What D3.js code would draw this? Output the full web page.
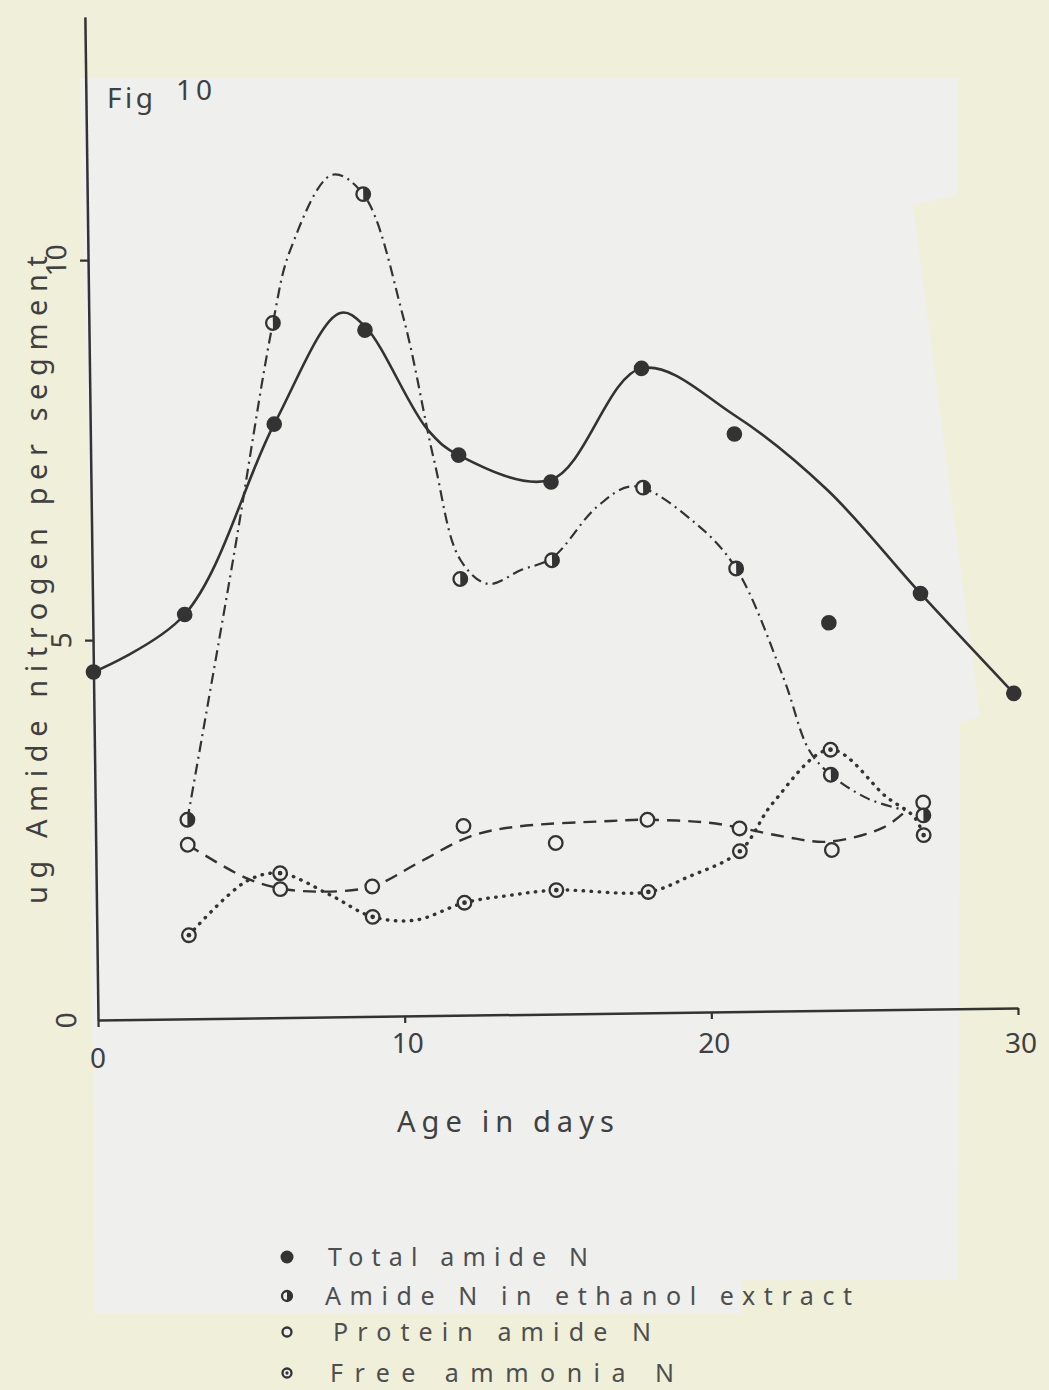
<!DOCTYPE html>
<html>
<head>
<meta charset="utf-8">
<script src="https://cdn.jsdelivr.net/npm/d3@7"></script>
<style>
  body { margin: 0; background: #efefda; }
  text { font-family: "Noto Sans", "DejaVu Sans", sans-serif; fill: #404040; }
</style>
</head>
<body>
<div id="chart"></div>
<script>
// measured points (age in days, ug amide N per segment)
var days = [0, 3, 6, 9, 12, 15, 18, 21, 24, 27, 30];
var totalAmide = [4.58, 5.32, 7.81, 9.03, 7.37, 7.0, 8.48, 7.6, 5.1, 5.47, 4.14];

var subDays = [3, 6, 9, 12, 15, 18, 21, 24, 27];
var ethanolAmide = [2.62, 9.14, 10.82, 5.74, 5.97, 6.91, 5.83, 3.10, 2.55];
var proteinAmide = [2.29, 1.69, 1.71, 2.49, 2.25, 2.54, 2.41, 2.11, 2.72];
var freeAmmonia = [1.10, 1.90, 1.31, 1.48, 1.63, 1.59, 2.11, 3.43, 2.29];

// hand drawn fitted curves
var totalCurveDays = [0, 3, 6, 8.2, 9, 11, 12, 15, 18, 21, 24, 27, 30];
var totalCurveVals = [4.58, 5.32, 7.81, 9.26, 9.08, 7.71, 7.37, 7.03, 8.48, 7.85, 6.85, 5.47, 4.14];

var ethanolCurveDays = [3, 4.6, 6, 6.6, 8, 9, 10.25, 11.2, 12, 12.9, 14, 15, 16.5, 17.7, 19.7, 21, 22.5, 23.3, 24, 25.2, 26.4];
var ethanolCurveVals = [2.62, 6.03, 9.14, 10.1, 11.08, 10.82, 9.2, 7.3, 6.0, 5.67, 5.85, 6.0, 6.67, 6.93, 6.43, 5.83, 4.38, 3.43, 3.10, 2.78, 2.62];

var proteinCurveDays = [3, 4.9, 6, 7.4, 9, 10.5, 12.2, 13.7, 16.8, 18, 20, 21, 22.5, 23.9, 25.7, 26.4];
var proteinCurveVals = [2.29, 1.84, 1.70, 1.65, 1.71, 2.01, 2.35, 2.47, 2.53, 2.54, 2.49, 2.42, 2.29, 2.22, 2.4, 2.6];

var freeCurveDays = [3, 4.9, 6, 7.6, 9, 10.4, 12, 13.5, 15, 18, 19.3, 21, 22.1, 24, 25.8, 26.7, 27];
var freeCurveVals = [1.10, 1.80, 1.90, 1.61, 1.31, 1.26, 1.48, 1.57, 1.63, 1.59, 1.78, 2.11, 2.74, 3.43, 2.8, 2.53, 2.29];

var xTicks = [0, 10, 20, 30];
var yTicks = [0, 5, 10];
var legendLabels = ["Total  amide N", "Amide N  in ethanol extract", "Protein  amide N", "Free  ammonia N"];

var ink = "#333333";
var panel = "#efefee";

var svg = d3.select("#chart").append("svg")
    .attr("width", 1049)
    .attr("height", 1390);

// paper and the pasted-on white sheet
svg.append("rect")
    .attr("width", 1049).attr("height", 1390)
    .attr("fill", "#efefda");
svg.append("path")
    .attr("d", "M80,78 L958,78 L958,195 L913,205 L980,717 L960,722 L958,1280 L742,1280 L742,1313 L94,1313 L90,560 Z")
    .attr("fill", panel);

// scales
var x = d3.scaleLinear().domain([0, 30]).range([98, 1018]);
var y = d3.scaleLinear().domain([0, 10]).range([1020, 260]);
var yAxisScale = d3.scaleLinear().domain([0, 13.2]).range([y(0), y(13.2)]);

// the scanned figure sits a little crooked
var plot = svg.append("g").attr("transform", "rotate(-0.75,98,1020)");

var xAxis = plot.append("g")
    .attr("transform", "translate(0," + y(0) + ")")
    .call(d3.axisBottom(x).tickValues(xTicks).tickSize(7).tickSizeOuter(0).tickFormat(""));
var yAxis = plot.append("g")
    .attr("transform", "translate(" + x(0) + ",0)")
    .call(d3.axisLeft(yAxisScale).tickValues(yTicks).tickSize(8).tickSizeOuter(0).tickFormat(""));
[xAxis, yAxis].forEach(function(a) {
  a.select(".domain").attr("stroke", ink).attr("stroke-width", 2.5);
  a.selectAll(".tick line").attr("stroke", ink).attr("stroke-width", 2.2);
});
yAxis.selectAll(".tick").filter(function(d) { return d === 0; }).remove();

// y tick labels, lettered sideways
plot.selectAll(".ylab")
    .data(yTicks)
    .enter().append("text")
    .attr("class", "ylab")
    .attr("transform", function(d) { return "translate(66," + y(d) + ") rotate(-90)"; })
    .attr("text-anchor", "middle")
    .attr("dy", "0.36em")
    .style("font-size", "28px")
    .text(function(d) { return d; });

// lines
var line = d3.line()
    .x(function(d) { return x(d[0]); })
    .y(function(d) { return y(d[1]); })
    .curve(d3.curveCatmullRom.alpha(0.5));

plot.append("path")
    .datum(d3.zip(proteinCurveDays, proteinCurveVals))
    .attr("fill", "none").attr("stroke", ink).attr("stroke-width", 2.4)
    .attr("stroke-dasharray", "13,8")
    .attr("d", line);
plot.append("path")
    .datum(d3.zip(freeCurveDays, freeCurveVals))
    .attr("fill", "none").attr("stroke", ink).attr("stroke-width", 3.4)
    .attr("stroke-linecap", "round")
    .attr("stroke-dasharray", "0.5,7.5")
    .attr("d", line);
plot.append("path")
    .datum(d3.zip(ethanolCurveDays, ethanolCurveVals))
    .attr("fill", "none").attr("stroke", ink).attr("stroke-width", 2.2)
    .attr("stroke-dasharray", "11,5,2,5")
    .attr("d", line);
plot.append("path")
    .datum(d3.zip(totalCurveDays, totalCurveVals))
    .attr("fill", "none").attr("stroke", ink).attr("stroke-width", 2.6)
    .attr("d", line);

// markers
function halfPath(r) {
  return "M0," + (-r) + " A" + r + "," + r + " 0 0 1 0," + r + " Z";
}
function drawMarker(g, kind, r) {
  if (kind === "filled") {
    g.append("circle").attr("r", r).attr("fill", ink);
    return;
  }
  g.append("circle").attr("r", r - 1)
      .attr("fill", panel).attr("stroke", ink).attr("stroke-width", 2.3);
  if (kind === "half") {
    g.append("path").attr("d", halfPath(r - 1)).attr("fill", ink);
  }
  if (kind === "dot") {
    g.append("circle").attr("r", r * 0.3).attr("fill", ink);
  }
}
function drawSeries(xs, vals, kind) {
  plot.selectAll(null)
      .data(d3.zip(xs, vals))
      .enter().append("g")
      .attr("transform", function(d) { return "translate(" + x(d[0]) + "," + y(d[1]) + ")"; })
      .each(function() { drawMarker(d3.select(this), kind, 7.8); });
}
drawSeries(subDays, proteinAmide, "open");
drawSeries(subDays, freeAmmonia, "dot");
drawSeries(subDays, ethanolAmide, "half");
drawSeries(days, totalAmide, "filled");

// x tick labels
svg.selectAll(".xlab")
    .data(xTicks)
    .enter().append("text")
    .attr("class", "xlab")
    .attr("x", function(d) { return x(d) + (d === 0 ? 0 : 3); })
    .attr("y", function(d) { return d === 0 ? 1068 : 1053; })
    .attr("text-anchor", "middle")
    .style("font-size", "28px")
    .text(function(d) { return d; });

// titles
svg.append("text")
    .attr("transform", "translate(47,580) rotate(-90)")
    .attr("text-anchor", "middle")
    .attr("textLength", 648).attr("lengthAdjust", "spacing")
    .style("font-size", "29px")
    .text("ug Amide nitrogen per segment");

svg.append("text")
    .attr("x", 397).attr("y", 1132)
    .attr("textLength", 217).attr("lengthAdjust", "spacing")
    .style("font-size", "29px")
    .text("Age in days");

svg.append("text")
    .attr("x", 107).attr("y", 108)
    .attr("textLength", 46).attr("lengthAdjust", "spacing")
    .style("font-size", "28px")
    .text("Fig");
svg.append("text")
    .attr("x", 176).attr("y", 100)
    .attr("textLength", 36).attr("lengthAdjust", "spacing")
    .style("font-size", "28px")
    .text("10");

// legend
var legendKinds = ["filled", "half", "open", "dot"];
var legendRadius = [6.5, 6, 5.5, 5.5];
var legendRowY = [1266, 1305, 1341, 1382];
var legendTextX = [328, 325, 333, 330];
var legendTextLen = [260, 527, 318, 344];

var legend = svg.append("g");
legendLabels.forEach(function(label, i) {
  var m = legend.append("g").attr("transform", "translate(287," + (legendRowY[i] - 9) + ")");
  drawMarker(m, legendKinds[i], legendRadius[i]);
  legend.append("text")
      .attr("x", legendTextX[i]).attr("y", legendRowY[i])
      .attr("textLength", legendTextLen[i]).attr("lengthAdjust", "spacing")
      .style("font-size", "25px")
      .style("fill", "#4e4e4e")
      .text(label);
});
</script>
</body>
</html>
